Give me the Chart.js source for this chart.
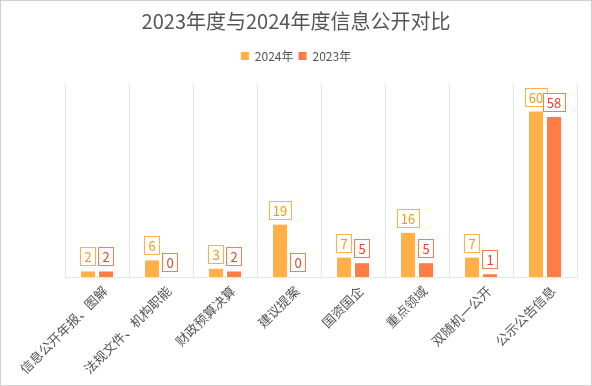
<!DOCTYPE html>
<html>
<head>
<meta charset="utf-8">
<script src="https://cdn.jsdelivr.net/npm/chart.js@4/dist/chart.umd.min.js"></script>
<style>
  html, body { margin: 0; padding: 0; background: #fff; }
  #wrap { position: relative; width: 590px; height: 384px; border: 1px solid #cfcfcf; }
</style>
</head>
<body>
<div id="wrap"><canvas id="chart"></canvas></div>
<script>
const categories = ['信息公开年报、图解', '法规文件、机构职能', '财政预算决算', '建议提案', '国资国企', '重点领域', '双随机一公开', '公示公告信息'];
const values2024 = [2, 6, 3, 19, 7, 16, 7, 60];
const values2023 = [2, 0, 2, 0, 5, 5, 1, 58];

const FONT = '"Microsoft YaHei", "Noto Sans CJK SC", sans-serif';

// extra space below the legend
const legendGap = {
  id: 'legendGap',
  beforeInit(chart) {
    const fit = chart.legend.fit;
    chart.legend.fit = function () {
      fit.bind(chart.legend)();
      this.height += 12;
    };
  }
};

// boxed value labels above each bar
const boxLabels = {
  id: 'boxLabels',
  afterDatasetsDraw(chart) {
    const ctx = chart.ctx;
    ctx.save();
    ctx.font = '13px ' + FONT;
    ctx.textAlign = 'center';
    ctx.textBaseline = 'middle';
    chart.data.datasets.forEach((ds, i) => {
      chart.getDatasetMeta(i).data.forEach((bar, j) => {
        const txt = String(ds.data[j]);
        const w = ctx.measureText(txt).width + 8;
        const h = 18;
        const x = bar.x - w / 2;
        const y = bar.y - 6 - h;
        ctx.fillStyle = '#fff';
        ctx.fillRect(x, y, w, h);
        ctx.strokeStyle = ds.labelBorder;
        ctx.lineWidth = 1;
        ctx.strokeRect(Math.round(x) + 0.5, Math.round(y) + 0.5, Math.round(w), h);
        ctx.fillStyle = ds.labelColor;
        ctx.fillText(txt, bar.x, y + h / 2 + 1);
      });
    });
    ctx.restore();
  }
};

new Chart(document.getElementById('chart'), {
  type: 'bar',
  data: {
    labels: categories,
    datasets: [
      { label: '2024年', data: values2024, backgroundColor: '#ffb046', labelBorder: '#ffb046', labelColor: '#f39c12',
        barPercentage: 0.78, categoryPercentage: 0.5625 },
      { label: '2023年', data: values2023, backgroundColor: '#ff7c47', labelBorder: '#ff7c47', labelColor: '#e8402a',
        barPercentage: 0.78, categoryPercentage: 0.5625 }
    ]
  },
  plugins: [legendGap, boxLabels],
  options: {
    responsive: true,
    maintainAspectRatio: false,
    animation: false,
    layout: { padding: { left: 14, right: 14, top: 5, bottom: 0 } },
    plugins: {
      title: {
        display: true, text: '2023年度与2024年度信息公开对比',
        color: '#555', font: { size: 20, family: FONT, weight: 'normal' },
        padding: { top: 3, bottom: 12 }
      },
      legend: {
        display: true,
        labels: { boxWidth: 8, boxHeight: 8, color: '#555', font: { size: 12, family: FONT }, padding: 5 }
      },
      tooltip: { enabled: false }
    },
    scales: {
      x: {
        afterFit(scale) { scale.height = 108; },
        grid: { display: true, offset: true, color: '#e6e6e6', drawTicks: false },
        border: { color: '#e6e6e6' },
        ticks: { color: '#555', font: { size: 13, family: FONT }, minRotation: 45, maxRotation: 45, padding: 6, labelOffset: 8 }
      },
      y: {
        display: true,
        afterFit(scale) { scale.width = 50; },
        min: 0, max: 70,
        ticks: { display: false },
        grid: { display: false, drawTicks: false },
        border: { display: false }
      }
    }
  }
});
</script>
</body>
</html>
